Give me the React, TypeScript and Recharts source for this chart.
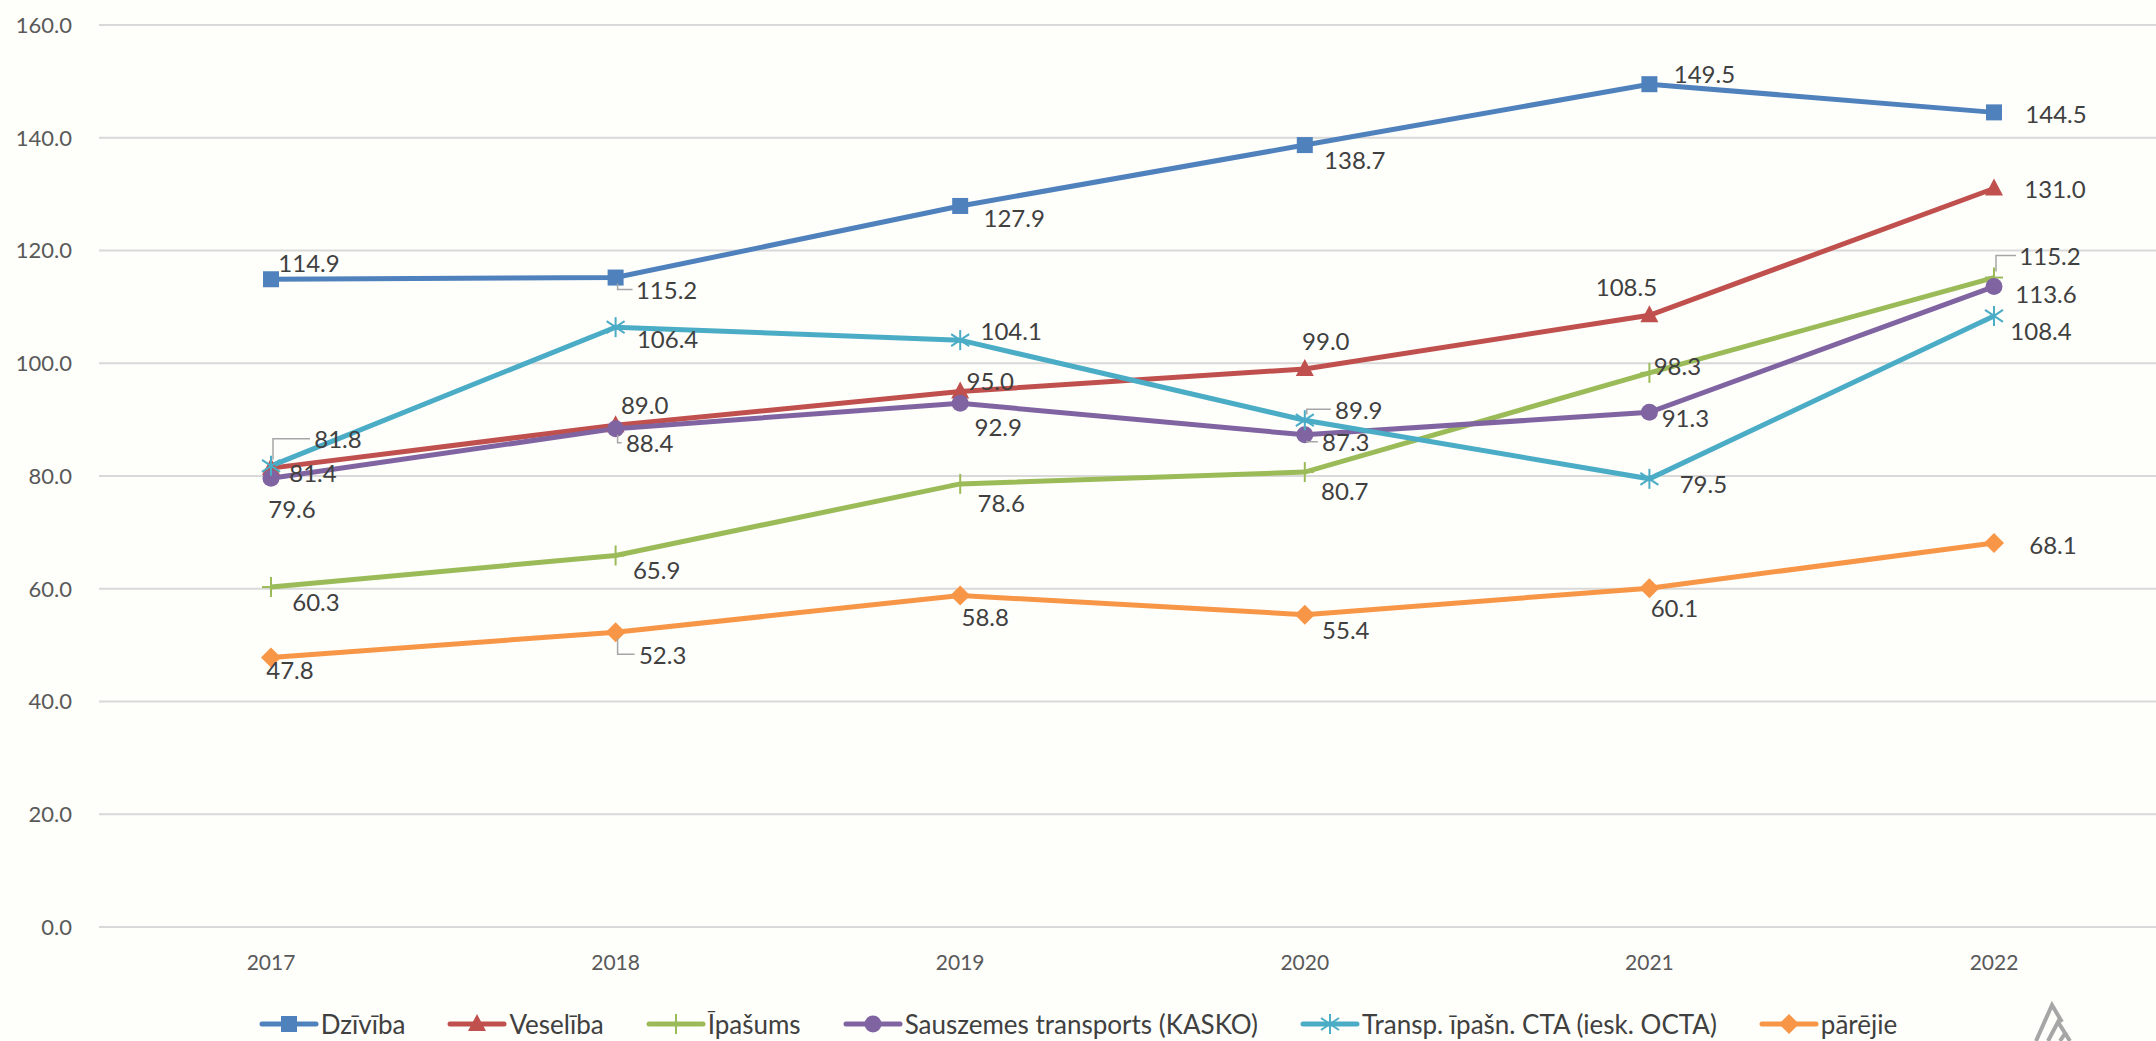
import React from "react";
import { LineChart, Line, XAxis, YAxis, CartesianGrid, LabelList } from "recharts";

const years = ["2017", "2018", "2019", "2020", "2021", "2022"];
const dziviba = [114.9, 115.2, 127.9, 138.7, 149.5, 144.5];
const veseliba = [81.4, 89.0, 95.0, 99.0, 108.5, 131.0];
const ipasums = [60.3, 65.9, 78.6, 80.7, 98.3, 115.2];
const kasko = [79.6, 88.4, 92.9, 87.3, 91.3, 113.6];
const cta = [81.8, 106.4, 104.1, 89.9, 79.5, 108.4];
const parejie = [47.8, 52.3, 58.8, 55.4, 60.1, 68.1];
const yTicks = [0, 20, 40, 60, 80, 100, 120, 140, 160];

const data = years.map((year, i) => ({
  year,
  dziviba: dziviba[i],
  veseliba: veseliba[i],
  ipasums: ipasums[i],
  kasko: kasko[i],
  cta: cta[i],
  parejie: parejie[i],
}));

// label centre offsets from the point [dx, dy, leader?]
type Off = [number, number, boolean?];
const labelOffsets: Record<string, Off[]> = {
  dziviba: [[38, -17], [51, 12, true], [54, 12], [50, 14], [55, -11], [62, 1]],
  veseliba: [[42, 4], [29, -21], [30, -11], [21, -28], [-23, -29], [61, 0]],
  ipasums: [[45, 14], [41, 14], [41, 19], [40, 18], [28, -7], [56, -22, true]],
  kasko: [[21, 30], [34, 14, true], [38, 23], [41, 7, true], [36, 5], [52, 7]],
  cta: [[67, -27, true], [52, 11], [51, -10], [54, -11, true], [54, 5], [47, 15]],
  parejie: [[19, 12], [47, 22, true], [25, 21], [41, 15], [25, 19], [59, 1]],
};

type Marker = "square" | "triangle" | "plus" | "circle" | "star" | "diamond";

const series: { key: string; name: string; color: string; marker: Marker }[] = [
  { key: "dziviba", name: "Dzīvība", color: "#4F81BD", marker: "square" },
  { key: "veseliba", name: "Veselība", color: "#C0504D", marker: "triangle" },
  { key: "ipasums", name: "Īpašums", color: "#9BBB59", marker: "plus" },
  { key: "kasko", name: "Sauszemes transports (KASKO)", color: "#8064A2", marker: "circle" },
  { key: "cta", name: "Transp. īpašn. CTA (iesk. OCTA)", color: "#4BACC6", marker: "star" },
  { key: "parejie", name: "pārējie", color: "#F79646", marker: "diamond" },
];

const FONT = "Lato, 'Open Sans', sans-serif";
const TEXT = "#404040";

function markerShape(type: Marker, cx: number, cy: number, color: string, key?: string) {
  switch (type) {
    case "square":
      return <rect key={key} x={cx - 8} y={cy - 8} width={16} height={16} fill={color} />;
    case "triangle":
      return <polygon key={key} points={`${cx},${cy - 10} ${cx + 9},${cy + 7} ${cx - 9},${cy + 7}`} fill={color} />;
    case "plus":
      return (
        <g key={key} stroke={color} strokeWidth={2}>
          <line x1={cx} y1={cy - 10} x2={cx} y2={cy + 10} />
          <line x1={cx - 9} y1={cy} x2={cx + 9} y2={cy} />
        </g>
      );
    case "circle":
      return <circle key={key} cx={cx} cy={cy} r={8.5} fill={color} />;
    case "star":
      return (
        <g key={key} stroke={color} strokeWidth={2}>
          <line x1={cx} y1={cy - 10} x2={cx} y2={cy + 10} />
          <line x1={cx - 9} y1={cy - 6} x2={cx + 9} y2={cy + 6} />
          <line x1={cx - 9} y1={cy + 6} x2={cx + 9} y2={cy - 6} />
        </g>
      );
    case "diamond":
      return <polygon key={key} points={`${cx},${cy - 10} ${cx + 10},${cy} ${cx},${cy + 10} ${cx - 10},${cy}`} fill={color} />;
  }
}

function makeLabel(key: string) {
  return (props: any) => {
    const { x, y, value, index } = props;
    const off = labelOffsets[key][index];
    const text = Number(value).toFixed(1);
    const lx = x + off[0];
    const ly = y + off[1];
    const w = text.length * 12;
    const left = lx - w / 2 - 4;
    return (
      <g>
        {off[2] && (
          <path
            d={`M${x + 2},${y + (ly > y ? 6 : -6)} L${x + 2},${ly} L${left},${ly}`}
            fill="none"
            stroke="#A6A6A6"
            strokeWidth={1.5}
          />
        )}
        <text x={lx} y={ly} textAnchor="middle" dominantBaseline="central" fontSize={24} fill={TEXT} fontFamily={FONT}>
          {text}
        </text>
      </g>
    );
  };
}

function Legend() {
  return (
    <div
      style={{
        position: "absolute",
        left: 0,
        top: 1008,
        width: 2156,
        display: "flex",
        justifyContent: "center",
        gap: 42,
        fontFamily: FONT,
        fontSize: 26,
        color: TEXT,
        lineHeight: "32px",
      }}
    >
      {series.map((s) => (
        <div key={s.key} style={{ display: "flex", alignItems: "center" }}>
          <svg width={60} height={32} style={{ marginRight: 2 }}>
            <line x1={3} y1={16} x2={57} y2={16} stroke={s.color} strokeWidth={5} strokeLinecap="round" />
            {markerShape(s.marker, 30, 16, s.color)}
          </svg>
          <span>{s.name}</span>
        </div>
      ))}
    </div>
  );
}

function Logo() {
  return (
    <svg style={{ position: "absolute", left: 2030, top: 1000 }} width={60} height={41}>
      <g fill="none" stroke="#A6A6A6" strokeWidth={4}>
        <path d="M6,41 L22,5 L32,22" />
        <path d="M18,41 L28,22 L40,41" />
        <path d="M30,41 L36,32" />
      </g>
    </svg>
  );
}

export default function App() {
  return (
    <div style={{ position: "fixed", left: 0, top: 0, width: 2156, height: 1041, background: "#FEFEFB", overflow: "hidden" }}>
      <LineChart width={2156} height={1041} data={data} margin={{ top: 25, right: -10, bottom: 0, left: 0 }}>
        <CartesianGrid vertical={false} stroke="#D9D9D9" strokeWidth={2} />
        <XAxis
          dataKey="year"
          axisLine={false}
          tickLine={false}
          height={114}
          tickMargin={22}
          padding={{ left: 172, right: 172 }}
          tick={{ fontSize: 21, fill: "#595959", fontFamily: FONT }}
        />
        <YAxis
          domain={[0, 160]}
          ticks={yTicks}
          axisLine={false}
          tickLine={false}
          width={99}
          tickMargin={21}
          tickFormatter={(v: number) => v.toFixed(1)}
          tick={{ fontSize: 22, fill: "#595959", fontFamily: FONT }}
        />
        {series.map((s) => (
          <Line
            key={s.key}
            dataKey={s.key}
            name={s.name}
            stroke={s.color}
            strokeWidth={5}
            isAnimationActive={false}
            dot={(p: any) => markerShape(s.marker, p.cx, p.cy, s.color, `${s.key}-${p.index}`)}
            activeDot={false}
          >
            <LabelList dataKey={s.key} content={makeLabel(s.key)} />
          </Line>
        ))}
      </LineChart>
      <Legend />
      <Logo />
    </div>
  );
}
